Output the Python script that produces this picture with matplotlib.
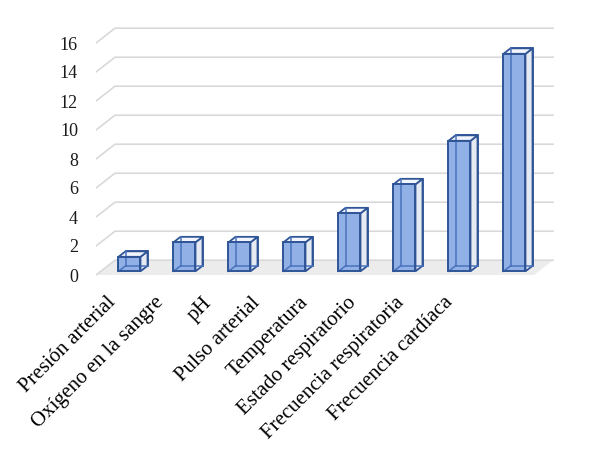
import matplotlib.pyplot as plt
from matplotlib.patches import Polygon

categories = ["Presión arterial", "Oxígeno en la sangre", "pH", "Pulso arterial",
              "Temperatura", "Estado respiratorio", "Frecuencia respiratoria",
              "Frecuencia cardíaca"]
values = [1, 2, 2, 2, 4, 6, 9, 15]
yticks = [0, 2, 4, 6, 8, 10, 12, 14, 16]

# oblique depth of the 3d box (category units, value units)
DX, DY = 0.345, 1.02
TB0, TB1 = 0.25, 0.62   # bar depth inside the box
HW = 0.2                # half width of a bar
WALL_L, WALL_R = -0.609, 7.355

face_col = "#90b0e6"
edge_col = "#2f5597"
grid_col = "#d9d9d9"
font = "Liberation Serif"


def P(x, v, t):
    return (x + t * DX, v + t * DY)


fig = plt.figure(figsize=(5.91, 4.72), dpi=100)
ax = fig.add_axes([96 / 591, 0, 1 - 96 / 591, 1])
ax.set_xlim(WALL_L, (591 - 129.5) / 55)
ax.set_ylim((275 - 472) / 14.5, 275 / 14.5)

# floor
ax.add_patch(Polygon([P(WALL_L, 0, 0), P(WALL_R, 0, 0), P(WALL_R, 0, 1), P(WALL_L, 0, 1)],
                     closed=True, facecolor="#ececec", edgecolor="none", zorder=1))

# gridlines: left diagonal + back wall
for v in yticks:
    a = P(WALL_L, v, 0)
    b = P(WALL_L, v, 1)
    c = P(WALL_R, v, 1)
    ax.plot([a[0], b[0], c[0]], [a[1], b[1], c[1]], color=grid_col, lw=1.2,
            solid_joinstyle="miter", zorder=2)

# bars
for i, val in enumerate(values):
    xb = i - TB0 * DX
    x0, x1 = xb - HW, xb + HW
    c = {}
    for name, x in (("l", x0), ("r", x1)):
        for hn, v in (("b", 0), ("t", val)):
            for dn, t in (("f", TB0), ("k", TB1)):
                c[name + hn + dn] = P(x, v, t)
    faces = [
        ([c["lbk"], c["rbk"], c["rtk"], c["ltk"]], "#e6eaf2", 3),   # back
        ([c["rbf"], c["rbk"], c["rtk"], c["rtf"]], "#e6eaf2", 4),   # right
        ([c["ltf"], c["rtf"], c["rtk"], c["ltk"]], "#f2f5fb", 4),   # top
    ]
    for pts, fc, z in faces:
        ax.add_patch(Polygon(pts, closed=True, facecolor=fc, edgecolor=edge_col,
                             lw=1.3, zorder=z))
    ax.add_patch(Polygon([c["lbf"], c["rbf"], c["rtf"], c["ltf"]], closed=True,
                         facecolor=face_col, edgecolor="none", zorder=5))
    # hidden edges seen through the front face
    for p, q in ((c["lbk"], c["ltk"]), (c["lbk"], c["rbk"]), (c["lbf"], c["lbk"])):
        ax.plot([p[0], q[0]], [p[1], q[1]], color="#4a72bd", lw=1.1, zorder=6)
    ax.add_patch(Polygon([c["lbf"], c["rbf"], c["rtf"], c["ltf"]], closed=True,
                         facecolor="none", edgecolor=edge_col, lw=1.4, zorder=7))

# category labels
for i, lab in enumerate(categories):
    ax.text(-0.42 + 0.875 * i, -1.25, lab, rotation=45, rotation_mode="anchor",
            ha="right", va="top", fontsize=15, family=font, color="black")

ax.set_yticks(yticks)
ax.set_yticklabels([str(v) for v in yticks], family=font, fontsize=13, color="#1a1a1a")
ax.tick_params(axis="y", length=0, pad=13)
ax.set_xticks([])
for s in ax.spines.values():
    s.set_visible(False)
ax.patch.set_alpha(0)

fig.savefig("out.png", dpi=100)
